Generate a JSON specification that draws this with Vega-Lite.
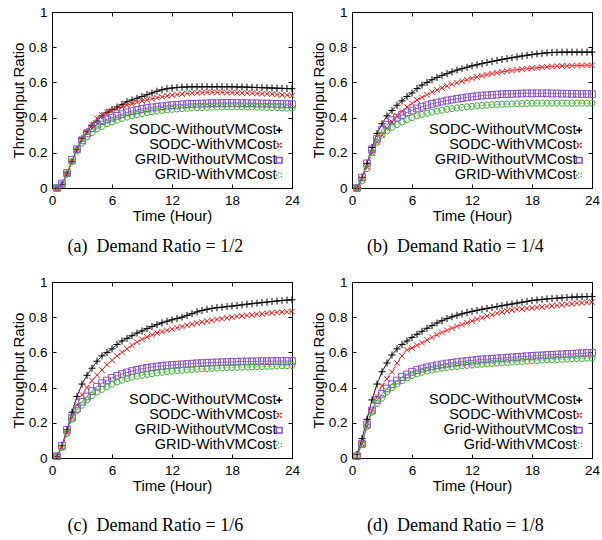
{
"$schema":"https://vega.github.io/schema/vega-lite/v6.json",
"background":"white",
"padding":{"left":10,"top":4,"right":0,"bottom":0},
"data":{"values":[
{"p":"a","k":"SW","t":0.5,"v":0},{"p":"a","k":"SW","t":1,"v":0.02},{"p":"a","k":"SW","t":1.5,"v":0.08},{"p":"a","k":"SW","t":2,"v":0.15},{"p":"a","k":"SW","t":2.5,"v":0.22},{"p":"a","k":"SW","t":3,"v":0.28},{"p":"a","k":"SW","t":3.5,"v":0.32},{"p":"a","k":"SW","t":4,"v":0.355},{"p":"a","k":"SW","t":4.5,"v":0.38},{"p":"a","k":"SW","t":5,"v":0.41},{"p":"a","k":"SW","t":5.5,"v":0.43},{"p":"a","k":"SW","t":6,"v":0.445},{"p":"a","k":"SW","t":6.5,"v":0.46},{"p":"a","k":"SW","t":7,"v":0.475},{"p":"a","k":"SW","t":7.5,"v":0.49},{"p":"a","k":"SW","t":8,"v":0.5},{"p":"a","k":"SW","t":8.5,"v":0.51},{"p":"a","k":"SW","t":9,"v":0.52},{"p":"a","k":"SW","t":9.5,"v":0.53},{"p":"a","k":"SW","t":10,"v":0.54},{"p":"a","k":"SW","t":10.5,"v":0.55},{"p":"a","k":"SW","t":11,"v":0.558},{"p":"a","k":"SW","t":11.5,"v":0.564},{"p":"a","k":"SW","t":12,"v":0.568},{"p":"a","k":"SW","t":12.5,"v":0.571},{"p":"a","k":"SW","t":13,"v":0.573},{"p":"a","k":"SW","t":13.5,"v":0.574},{"p":"a","k":"SW","t":14,"v":0.575},{"p":"a","k":"SW","t":14.5,"v":0.575},{"p":"a","k":"SW","t":15,"v":0.575},{"p":"a","k":"SW","t":15.5,"v":0.575},{"p":"a","k":"SW","t":16,"v":0.575},{"p":"a","k":"SW","t":16.5,"v":0.575},{"p":"a","k":"SW","t":17,"v":0.575},{"p":"a","k":"SW","t":17.5,"v":0.575},{"p":"a","k":"SW","t":18,"v":0.575},{"p":"a","k":"SW","t":18.5,"v":0.574},{"p":"a","k":"SW","t":19,"v":0.574},{"p":"a","k":"SW","t":19.5,"v":0.573},{"p":"a","k":"SW","t":20,"v":0.572},{"p":"a","k":"SW","t":20.5,"v":0.571},{"p":"a","k":"SW","t":21,"v":0.57},{"p":"a","k":"SW","t":21.5,"v":0.569},{"p":"a","k":"SW","t":22,"v":0.568},{"p":"a","k":"SW","t":22.5,"v":0.567},{"p":"a","k":"SW","t":23,"v":0.566},{"p":"a","k":"SW","t":23.5,"v":0.565},{"p":"a","k":"SW","t":24,"v":0.564},
{"p":"a","k":"SV","t":0.5,"v":0},{"p":"a","k":"SV","t":1,"v":0.02},{"p":"a","k":"SV","t":1.5,"v":0.08},{"p":"a","k":"SV","t":2,"v":0.15},{"p":"a","k":"SV","t":2.5,"v":0.22},{"p":"a","k":"SV","t":3,"v":0.28},{"p":"a","k":"SV","t":3.5,"v":0.32},{"p":"a","k":"SV","t":4,"v":0.36},{"p":"a","k":"SV","t":4.5,"v":0.395},{"p":"a","k":"SV","t":5,"v":0.415},{"p":"a","k":"SV","t":5.5,"v":0.43},{"p":"a","k":"SV","t":6,"v":0.44},{"p":"a","k":"SV","t":6.5,"v":0.45},{"p":"a","k":"SV","t":7,"v":0.46},{"p":"a","k":"SV","t":7.5,"v":0.47},{"p":"a","k":"SV","t":8,"v":0.478},{"p":"a","k":"SV","t":8.5,"v":0.486},{"p":"a","k":"SV","t":9,"v":0.494},{"p":"a","k":"SV","t":9.5,"v":0.5},{"p":"a","k":"SV","t":10,"v":0.507},{"p":"a","k":"SV","t":10.5,"v":0.513},{"p":"a","k":"SV","t":11,"v":0.518},{"p":"a","k":"SV","t":11.5,"v":0.523},{"p":"a","k":"SV","t":12,"v":0.527},{"p":"a","k":"SV","t":12.5,"v":0.531},{"p":"a","k":"SV","t":13,"v":0.534},{"p":"a","k":"SV","t":13.5,"v":0.537},{"p":"a","k":"SV","t":14,"v":0.539},{"p":"a","k":"SV","t":14.5,"v":0.541},{"p":"a","k":"SV","t":15,"v":0.542},{"p":"a","k":"SV","t":15.5,"v":0.543},{"p":"a","k":"SV","t":16,"v":0.543},{"p":"a","k":"SV","t":16.5,"v":0.543},{"p":"a","k":"SV","t":17,"v":0.543},{"p":"a","k":"SV","t":17.5,"v":0.542},{"p":"a","k":"SV","t":18,"v":0.542},{"p":"a","k":"SV","t":18.5,"v":0.541},{"p":"a","k":"SV","t":19,"v":0.54},{"p":"a","k":"SV","t":19.5,"v":0.539},{"p":"a","k":"SV","t":20,"v":0.538},{"p":"a","k":"SV","t":20.5,"v":0.537},{"p":"a","k":"SV","t":21,"v":0.536},{"p":"a","k":"SV","t":21.5,"v":0.535},{"p":"a","k":"SV","t":22,"v":0.533},{"p":"a","k":"SV","t":22.5,"v":0.531},{"p":"a","k":"SV","t":23,"v":0.529},{"p":"a","k":"SV","t":23.5,"v":0.527},{"p":"a","k":"SV","t":24,"v":0.525},
{"p":"a","k":"GW","t":0.5,"v":0},{"p":"a","k":"GW","t":1,"v":0.025},{"p":"a","k":"GW","t":1.5,"v":0.085},{"p":"a","k":"GW","t":2,"v":0.16},{"p":"a","k":"GW","t":2.5,"v":0.22},{"p":"a","k":"GW","t":3,"v":0.27},{"p":"a","k":"GW","t":3.5,"v":0.31},{"p":"a","k":"GW","t":4,"v":0.34},{"p":"a","k":"GW","t":4.5,"v":0.36},{"p":"a","k":"GW","t":5,"v":0.38},{"p":"a","k":"GW","t":5.5,"v":0.39},{"p":"a","k":"GW","t":6,"v":0.4},{"p":"a","k":"GW","t":6.5,"v":0.41},{"p":"a","k":"GW","t":7,"v":0.42},{"p":"a","k":"GW","t":7.5,"v":0.43},{"p":"a","k":"GW","t":8,"v":0.437},{"p":"a","k":"GW","t":8.5,"v":0.443},{"p":"a","k":"GW","t":9,"v":0.449},{"p":"a","k":"GW","t":9.5,"v":0.454},{"p":"a","k":"GW","t":10,"v":0.458},{"p":"a","k":"GW","t":10.5,"v":0.462},{"p":"a","k":"GW","t":11,"v":0.465},{"p":"a","k":"GW","t":11.5,"v":0.468},{"p":"a","k":"GW","t":12,"v":0.471},{"p":"a","k":"GW","t":12.5,"v":0.473},{"p":"a","k":"GW","t":13,"v":0.475},{"p":"a","k":"GW","t":13.5,"v":0.477},{"p":"a","k":"GW","t":14,"v":0.478},{"p":"a","k":"GW","t":14.5,"v":0.479},{"p":"a","k":"GW","t":15,"v":0.48},{"p":"a","k":"GW","t":15.5,"v":0.481},{"p":"a","k":"GW","t":16,"v":0.482},{"p":"a","k":"GW","t":16.5,"v":0.482},{"p":"a","k":"GW","t":17,"v":0.483},{"p":"a","k":"GW","t":17.5,"v":0.483},{"p":"a","k":"GW","t":18,"v":0.483},{"p":"a","k":"GW","t":18.5,"v":0.483},{"p":"a","k":"GW","t":19,"v":0.482},{"p":"a","k":"GW","t":19.5,"v":0.482},{"p":"a","k":"GW","t":20,"v":0.481},{"p":"a","k":"GW","t":20.5,"v":0.481},{"p":"a","k":"GW","t":21,"v":0.48},{"p":"a","k":"GW","t":21.5,"v":0.48},{"p":"a","k":"GW","t":22,"v":0.479},{"p":"a","k":"GW","t":22.5,"v":0.478},{"p":"a","k":"GW","t":23,"v":0.478},{"p":"a","k":"GW","t":23.5,"v":0.477},{"p":"a","k":"GW","t":24,"v":0.476},
{"p":"a","k":"GV","t":0.5,"v":0},{"p":"a","k":"GV","t":1,"v":0.02},{"p":"a","k":"GV","t":1.5,"v":0.08},{"p":"a","k":"GV","t":2,"v":0.15},{"p":"a","k":"GV","t":2.5,"v":0.21},{"p":"a","k":"GV","t":3,"v":0.255},{"p":"a","k":"GV","t":3.5,"v":0.29},{"p":"a","k":"GV","t":4,"v":0.315},{"p":"a","k":"GV","t":4.5,"v":0.335},{"p":"a","k":"GV","t":5,"v":0.35},{"p":"a","k":"GV","t":5.5,"v":0.365},{"p":"a","k":"GV","t":6,"v":0.375},{"p":"a","k":"GV","t":6.5,"v":0.385},{"p":"a","k":"GV","t":7,"v":0.395},{"p":"a","k":"GV","t":7.5,"v":0.403},{"p":"a","k":"GV","t":8,"v":0.41},{"p":"a","k":"GV","t":8.5,"v":0.417},{"p":"a","k":"GV","t":9,"v":0.423},{"p":"a","k":"GV","t":9.5,"v":0.428},{"p":"a","k":"GV","t":10,"v":0.433},{"p":"a","k":"GV","t":10.5,"v":0.437},{"p":"a","k":"GV","t":11,"v":0.441},{"p":"a","k":"GV","t":11.5,"v":0.444},{"p":"a","k":"GV","t":12,"v":0.447},{"p":"a","k":"GV","t":12.5,"v":0.449},{"p":"a","k":"GV","t":13,"v":0.451},{"p":"a","k":"GV","t":13.5,"v":0.453},{"p":"a","k":"GV","t":14,"v":0.455},{"p":"a","k":"GV","t":14.5,"v":0.456},{"p":"a","k":"GV","t":15,"v":0.457},{"p":"a","k":"GV","t":15.5,"v":0.458},{"p":"a","k":"GV","t":16,"v":0.459},{"p":"a","k":"GV","t":16.5,"v":0.46},{"p":"a","k":"GV","t":17,"v":0.46},{"p":"a","k":"GV","t":17.5,"v":0.461},{"p":"a","k":"GV","t":18,"v":0.461},{"p":"a","k":"GV","t":18.5,"v":0.461},{"p":"a","k":"GV","t":19,"v":0.461},{"p":"a","k":"GV","t":19.5,"v":0.46},{"p":"a","k":"GV","t":20,"v":0.46},{"p":"a","k":"GV","t":20.5,"v":0.459},{"p":"a","k":"GV","t":21,"v":0.459},{"p":"a","k":"GV","t":21.5,"v":0.458},{"p":"a","k":"GV","t":22,"v":0.457},{"p":"a","k":"GV","t":22.5,"v":0.456},{"p":"a","k":"GV","t":23,"v":0.455},{"p":"a","k":"GV","t":23.5,"v":0.454},{"p":"a","k":"GV","t":24,"v":0.453},
{"p":"b","k":"SW","t":0.5,"v":0},{"p":"b","k":"SW","t":1,"v":0.06},{"p":"b","k":"SW","t":1.5,"v":0.14},{"p":"b","k":"SW","t":2,"v":0.23},{"p":"b","k":"SW","t":2.5,"v":0.31},{"p":"b","k":"SW","t":3,"v":0.365},{"p":"b","k":"SW","t":3.5,"v":0.41},{"p":"b","k":"SW","t":4,"v":0.44},{"p":"b","k":"SW","t":4.5,"v":0.47},{"p":"b","k":"SW","t":5,"v":0.495},{"p":"b","k":"SW","t":5.5,"v":0.52},{"p":"b","k":"SW","t":6,"v":0.54},{"p":"b","k":"SW","t":6.5,"v":0.565},{"p":"b","k":"SW","t":7,"v":0.585},{"p":"b","k":"SW","t":7.5,"v":0.6},{"p":"b","k":"SW","t":8,"v":0.615},{"p":"b","k":"SW","t":8.5,"v":0.628},{"p":"b","k":"SW","t":9,"v":0.64},{"p":"b","k":"SW","t":9.5,"v":0.65},{"p":"b","k":"SW","t":10,"v":0.66},{"p":"b","k":"SW","t":10.5,"v":0.67},{"p":"b","k":"SW","t":11,"v":0.678},{"p":"b","k":"SW","t":11.5,"v":0.686},{"p":"b","k":"SW","t":12,"v":0.694},{"p":"b","k":"SW","t":12.5,"v":0.7},{"p":"b","k":"SW","t":13,"v":0.707},{"p":"b","k":"SW","t":13.5,"v":0.713},{"p":"b","k":"SW","t":14,"v":0.719},{"p":"b","k":"SW","t":14.5,"v":0.725},{"p":"b","k":"SW","t":15,"v":0.73},{"p":"b","k":"SW","t":15.5,"v":0.735},{"p":"b","k":"SW","t":16,"v":0.74},{"p":"b","k":"SW","t":16.5,"v":0.745},{"p":"b","k":"SW","t":17,"v":0.75},{"p":"b","k":"SW","t":17.5,"v":0.754},{"p":"b","k":"SW","t":18,"v":0.758},{"p":"b","k":"SW","t":18.5,"v":0.762},{"p":"b","k":"SW","t":19,"v":0.765},{"p":"b","k":"SW","t":19.5,"v":0.768},{"p":"b","k":"SW","t":20,"v":0.77},{"p":"b","k":"SW","t":20.5,"v":0.771},{"p":"b","k":"SW","t":21,"v":0.772},{"p":"b","k":"SW","t":21.5,"v":0.772},{"p":"b","k":"SW","t":22,"v":0.772},{"p":"b","k":"SW","t":22.5,"v":0.772},{"p":"b","k":"SW","t":23,"v":0.772},{"p":"b","k":"SW","t":23.5,"v":0.772},{"p":"b","k":"SW","t":24,"v":0.772},
{"p":"b","k":"SV","t":0.5,"v":0},{"p":"b","k":"SV","t":1,"v":0.05},{"p":"b","k":"SV","t":1.5,"v":0.12},{"p":"b","k":"SV","t":2,"v":0.2},{"p":"b","k":"SV","t":2.5,"v":0.26},{"p":"b","k":"SV","t":3,"v":0.3},{"p":"b","k":"SV","t":3.5,"v":0.34},{"p":"b","k":"SV","t":4,"v":0.375},{"p":"b","k":"SV","t":4.5,"v":0.41},{"p":"b","k":"SV","t":5,"v":0.435},{"p":"b","k":"SV","t":5.5,"v":0.46},{"p":"b","k":"SV","t":6,"v":0.48},{"p":"b","k":"SV","t":6.5,"v":0.5},{"p":"b","k":"SV","t":7,"v":0.515},{"p":"b","k":"SV","t":7.5,"v":0.53},{"p":"b","k":"SV","t":8,"v":0.545},{"p":"b","k":"SV","t":8.5,"v":0.557},{"p":"b","k":"SV","t":9,"v":0.568},{"p":"b","k":"SV","t":9.5,"v":0.579},{"p":"b","k":"SV","t":10,"v":0.589},{"p":"b","k":"SV","t":10.5,"v":0.598},{"p":"b","k":"SV","t":11,"v":0.607},{"p":"b","k":"SV","t":11.5,"v":0.615},{"p":"b","k":"SV","t":12,"v":0.623},{"p":"b","k":"SV","t":12.5,"v":0.631},{"p":"b","k":"SV","t":13,"v":0.638},{"p":"b","k":"SV","t":13.5,"v":0.644},{"p":"b","k":"SV","t":14,"v":0.65},{"p":"b","k":"SV","t":14.5,"v":0.655},{"p":"b","k":"SV","t":15,"v":0.66},{"p":"b","k":"SV","t":15.5,"v":0.664},{"p":"b","k":"SV","t":16,"v":0.668},{"p":"b","k":"SV","t":16.5,"v":0.672},{"p":"b","k":"SV","t":17,"v":0.675},{"p":"b","k":"SV","t":17.5,"v":0.678},{"p":"b","k":"SV","t":18,"v":0.681},{"p":"b","k":"SV","t":18.5,"v":0.684},{"p":"b","k":"SV","t":19,"v":0.686},{"p":"b","k":"SV","t":19.5,"v":0.688},{"p":"b","k":"SV","t":20,"v":0.69},{"p":"b","k":"SV","t":20.5,"v":0.692},{"p":"b","k":"SV","t":21,"v":0.693},{"p":"b","k":"SV","t":21.5,"v":0.694},{"p":"b","k":"SV","t":22,"v":0.695},{"p":"b","k":"SV","t":22.5,"v":0.696},{"p":"b","k":"SV","t":23,"v":0.696},{"p":"b","k":"SV","t":23.5,"v":0.697},{"p":"b","k":"SV","t":24,"v":0.697},
{"p":"b","k":"GW","t":0.5,"v":0},{"p":"b","k":"GW","t":1,"v":0.06},{"p":"b","k":"GW","t":1.5,"v":0.14},{"p":"b","k":"GW","t":2,"v":0.22},{"p":"b","k":"GW","t":2.5,"v":0.28},{"p":"b","k":"GW","t":3,"v":0.33},{"p":"b","k":"GW","t":3.5,"v":0.36},{"p":"b","k":"GW","t":4,"v":0.385},{"p":"b","k":"GW","t":4.5,"v":0.4},{"p":"b","k":"GW","t":5,"v":0.415},{"p":"b","k":"GW","t":5.5,"v":0.43},{"p":"b","k":"GW","t":6,"v":0.44},{"p":"b","k":"GW","t":6.5,"v":0.452},{"p":"b","k":"GW","t":7,"v":0.462},{"p":"b","k":"GW","t":7.5,"v":0.47},{"p":"b","k":"GW","t":8,"v":0.478},{"p":"b","k":"GW","t":8.5,"v":0.485},{"p":"b","k":"GW","t":9,"v":0.491},{"p":"b","k":"GW","t":9.5,"v":0.497},{"p":"b","k":"GW","t":10,"v":0.502},{"p":"b","k":"GW","t":10.5,"v":0.507},{"p":"b","k":"GW","t":11,"v":0.511},{"p":"b","k":"GW","t":11.5,"v":0.515},{"p":"b","k":"GW","t":12,"v":0.519},{"p":"b","k":"GW","t":12.5,"v":0.522},{"p":"b","k":"GW","t":13,"v":0.525},{"p":"b","k":"GW","t":13.5,"v":0.527},{"p":"b","k":"GW","t":14,"v":0.529},{"p":"b","k":"GW","t":14.5,"v":0.531},{"p":"b","k":"GW","t":15,"v":0.533},{"p":"b","k":"GW","t":15.5,"v":0.534},{"p":"b","k":"GW","t":16,"v":0.535},{"p":"b","k":"GW","t":16.5,"v":0.536},{"p":"b","k":"GW","t":17,"v":0.537},{"p":"b","k":"GW","t":17.5,"v":0.538},{"p":"b","k":"GW","t":18,"v":0.538},{"p":"b","k":"GW","t":18.5,"v":0.538},{"p":"b","k":"GW","t":19,"v":0.538},{"p":"b","k":"GW","t":19.5,"v":0.538},{"p":"b","k":"GW","t":20,"v":0.537},{"p":"b","k":"GW","t":20.5,"v":0.537},{"p":"b","k":"GW","t":21,"v":0.536},{"p":"b","k":"GW","t":21.5,"v":0.536},{"p":"b","k":"GW","t":22,"v":0.535},{"p":"b","k":"GW","t":22.5,"v":0.535},{"p":"b","k":"GW","t":23,"v":0.534},{"p":"b","k":"GW","t":23.5,"v":0.534},{"p":"b","k":"GW","t":24,"v":0.533},
{"p":"b","k":"GV","t":0.5,"v":0},{"p":"b","k":"GV","t":1,"v":0.04},{"p":"b","k":"GV","t":1.5,"v":0.11},{"p":"b","k":"GV","t":2,"v":0.2},{"p":"b","k":"GV","t":2.5,"v":0.26},{"p":"b","k":"GV","t":3,"v":0.3},{"p":"b","k":"GV","t":3.5,"v":0.325},{"p":"b","k":"GV","t":4,"v":0.345},{"p":"b","k":"GV","t":4.5,"v":0.36},{"p":"b","k":"GV","t":5,"v":0.375},{"p":"b","k":"GV","t":5.5,"v":0.388},{"p":"b","k":"GV","t":6,"v":0.4},{"p":"b","k":"GV","t":6.5,"v":0.41},{"p":"b","k":"GV","t":7,"v":0.418},{"p":"b","k":"GV","t":7.5,"v":0.425},{"p":"b","k":"GV","t":8,"v":0.431},{"p":"b","k":"GV","t":8.5,"v":0.437},{"p":"b","k":"GV","t":9,"v":0.442},{"p":"b","k":"GV","t":9.5,"v":0.447},{"p":"b","k":"GV","t":10,"v":0.451},{"p":"b","k":"GV","t":10.5,"v":0.455},{"p":"b","k":"GV","t":11,"v":0.458},{"p":"b","k":"GV","t":11.5,"v":0.461},{"p":"b","k":"GV","t":12,"v":0.464},{"p":"b","k":"GV","t":12.5,"v":0.467},{"p":"b","k":"GV","t":13,"v":0.469},{"p":"b","k":"GV","t":13.5,"v":0.471},{"p":"b","k":"GV","t":14,"v":0.473},{"p":"b","k":"GV","t":14.5,"v":0.475},{"p":"b","k":"GV","t":15,"v":0.476},{"p":"b","k":"GV","t":15.5,"v":0.477},{"p":"b","k":"GV","t":16,"v":0.478},{"p":"b","k":"GV","t":16.5,"v":0.479},{"p":"b","k":"GV","t":17,"v":0.48},{"p":"b","k":"GV","t":17.5,"v":0.481},{"p":"b","k":"GV","t":18,"v":0.481},{"p":"b","k":"GV","t":18.5,"v":0.482},{"p":"b","k":"GV","t":19,"v":0.482},{"p":"b","k":"GV","t":19.5,"v":0.482},{"p":"b","k":"GV","t":20,"v":0.482},{"p":"b","k":"GV","t":20.5,"v":0.482},{"p":"b","k":"GV","t":21,"v":0.482},{"p":"b","k":"GV","t":21.5,"v":0.482},{"p":"b","k":"GV","t":22,"v":0.482},{"p":"b","k":"GV","t":22.5,"v":0.482},{"p":"b","k":"GV","t":23,"v":0.482},{"p":"b","k":"GV","t":23.5,"v":0.482},{"p":"b","k":"GV","t":24,"v":0.482},
{"p":"c","k":"SW","t":0.5,"v":0.01},{"p":"c","k":"SW","t":1,"v":0.07},{"p":"c","k":"SW","t":1.5,"v":0.16},{"p":"c","k":"SW","t":2,"v":0.26},{"p":"c","k":"SW","t":2.5,"v":0.35},{"p":"c","k":"SW","t":3,"v":0.42},{"p":"c","k":"SW","t":3.5,"v":0.47},{"p":"c","k":"SW","t":4,"v":0.51},{"p":"c","k":"SW","t":4.5,"v":0.55},{"p":"c","k":"SW","t":5,"v":0.58},{"p":"c","k":"SW","t":5.5,"v":0.6},{"p":"c","k":"SW","t":6,"v":0.62},{"p":"c","k":"SW","t":6.5,"v":0.645},{"p":"c","k":"SW","t":7,"v":0.665},{"p":"c","k":"SW","t":7.5,"v":0.68},{"p":"c","k":"SW","t":8,"v":0.695},{"p":"c","k":"SW","t":8.5,"v":0.71},{"p":"c","k":"SW","t":9,"v":0.722},{"p":"c","k":"SW","t":9.5,"v":0.735},{"p":"c","k":"SW","t":10,"v":0.747},{"p":"c","k":"SW","t":10.5,"v":0.758},{"p":"c","k":"SW","t":11,"v":0.768},{"p":"c","k":"SW","t":11.5,"v":0.777},{"p":"c","k":"SW","t":12,"v":0.785},{"p":"c","k":"SW","t":12.5,"v":0.793},{"p":"c","k":"SW","t":13,"v":0.8},{"p":"c","k":"SW","t":13.5,"v":0.81},{"p":"c","k":"SW","t":14,"v":0.82},{"p":"c","k":"SW","t":14.5,"v":0.83},{"p":"c","k":"SW","t":15,"v":0.838},{"p":"c","k":"SW","t":15.5,"v":0.845},{"p":"c","k":"SW","t":16,"v":0.85},{"p":"c","k":"SW","t":16.5,"v":0.854},{"p":"c","k":"SW","t":17,"v":0.857},{"p":"c","k":"SW","t":17.5,"v":0.86},{"p":"c","k":"SW","t":18,"v":0.863},{"p":"c","k":"SW","t":18.5,"v":0.866},{"p":"c","k":"SW","t":19,"v":0.87},{"p":"c","k":"SW","t":19.5,"v":0.874},{"p":"c","k":"SW","t":20,"v":0.877},{"p":"c","k":"SW","t":20.5,"v":0.88},{"p":"c","k":"SW","t":21,"v":0.883},{"p":"c","k":"SW","t":21.5,"v":0.886},{"p":"c","k":"SW","t":22,"v":0.889},{"p":"c","k":"SW","t":22.5,"v":0.892},{"p":"c","k":"SW","t":23,"v":0.895},{"p":"c","k":"SW","t":23.5,"v":0.897},{"p":"c","k":"SW","t":24,"v":0.899},
{"p":"c","k":"SV","t":0.5,"v":0.01},{"p":"c","k":"SV","t":1,"v":0.06},{"p":"c","k":"SV","t":1.5,"v":0.14},{"p":"c","k":"SV","t":2,"v":0.23},{"p":"c","k":"SV","t":2.5,"v":0.3},{"p":"c","k":"SV","t":3,"v":0.36},{"p":"c","k":"SV","t":3.5,"v":0.4},{"p":"c","k":"SV","t":4,"v":0.44},{"p":"c","k":"SV","t":4.5,"v":0.47},{"p":"c","k":"SV","t":5,"v":0.5},{"p":"c","k":"SV","t":5.5,"v":0.53},{"p":"c","k":"SV","t":6,"v":0.555},{"p":"c","k":"SV","t":6.5,"v":0.58},{"p":"c","k":"SV","t":7,"v":0.6},{"p":"c","k":"SV","t":7.5,"v":0.62},{"p":"c","k":"SV","t":8,"v":0.64},{"p":"c","k":"SV","t":8.5,"v":0.658},{"p":"c","k":"SV","t":9,"v":0.674},{"p":"c","k":"SV","t":9.5,"v":0.688},{"p":"c","k":"SV","t":10,"v":0.7},{"p":"c","k":"SV","t":10.5,"v":0.71},{"p":"c","k":"SV","t":11,"v":0.718},{"p":"c","k":"SV","t":11.5,"v":0.725},{"p":"c","k":"SV","t":12,"v":0.732},{"p":"c","k":"SV","t":12.5,"v":0.74},{"p":"c","k":"SV","t":13,"v":0.747},{"p":"c","k":"SV","t":13.5,"v":0.754},{"p":"c","k":"SV","t":14,"v":0.76},{"p":"c","k":"SV","t":14.5,"v":0.766},{"p":"c","k":"SV","t":15,"v":0.772},{"p":"c","k":"SV","t":15.5,"v":0.777},{"p":"c","k":"SV","t":16,"v":0.782},{"p":"c","k":"SV","t":16.5,"v":0.787},{"p":"c","k":"SV","t":17,"v":0.792},{"p":"c","k":"SV","t":17.5,"v":0.796},{"p":"c","k":"SV","t":18,"v":0.8},{"p":"c","k":"SV","t":18.5,"v":0.804},{"p":"c","k":"SV","t":19,"v":0.807},{"p":"c","k":"SV","t":19.5,"v":0.81},{"p":"c","k":"SV","t":20,"v":0.813},{"p":"c","k":"SV","t":20.5,"v":0.816},{"p":"c","k":"SV","t":21,"v":0.819},{"p":"c","k":"SV","t":21.5,"v":0.822},{"p":"c","k":"SV","t":22,"v":0.825},{"p":"c","k":"SV","t":22.5,"v":0.827},{"p":"c","k":"SV","t":23,"v":0.829},{"p":"c","k":"SV","t":23.5,"v":0.831},{"p":"c","k":"SV","t":24,"v":0.833},
{"p":"c","k":"GW","t":0.5,"v":0.01},{"p":"c","k":"GW","t":1,"v":0.07},{"p":"c","k":"GW","t":1.5,"v":0.16},{"p":"c","k":"GW","t":2,"v":0.23},{"p":"c","k":"GW","t":2.5,"v":0.28},{"p":"c","k":"GW","t":3,"v":0.32},{"p":"c","k":"GW","t":3.5,"v":0.35},{"p":"c","k":"GW","t":4,"v":0.38},{"p":"c","k":"GW","t":4.5,"v":0.405},{"p":"c","k":"GW","t":5,"v":0.425},{"p":"c","k":"GW","t":5.5,"v":0.44},{"p":"c","k":"GW","t":6,"v":0.455},{"p":"c","k":"GW","t":6.5,"v":0.467},{"p":"c","k":"GW","t":7,"v":0.477},{"p":"c","k":"GW","t":7.5,"v":0.486},{"p":"c","k":"GW","t":8,"v":0.494},{"p":"c","k":"GW","t":8.5,"v":0.501},{"p":"c","k":"GW","t":9,"v":0.507},{"p":"c","k":"GW","t":9.5,"v":0.512},{"p":"c","k":"GW","t":10,"v":0.516},{"p":"c","k":"GW","t":10.5,"v":0.52},{"p":"c","k":"GW","t":11,"v":0.523},{"p":"c","k":"GW","t":11.5,"v":0.526},{"p":"c","k":"GW","t":12,"v":0.528},{"p":"c","k":"GW","t":12.5,"v":0.53},{"p":"c","k":"GW","t":13,"v":0.532},{"p":"c","k":"GW","t":13.5,"v":0.534},{"p":"c","k":"GW","t":14,"v":0.536},{"p":"c","k":"GW","t":14.5,"v":0.538},{"p":"c","k":"GW","t":15,"v":0.539},{"p":"c","k":"GW","t":15.5,"v":0.541},{"p":"c","k":"GW","t":16,"v":0.542},{"p":"c","k":"GW","t":16.5,"v":0.543},{"p":"c","k":"GW","t":17,"v":0.544},{"p":"c","k":"GW","t":17.5,"v":0.545},{"p":"c","k":"GW","t":18,"v":0.546},{"p":"c","k":"GW","t":18.5,"v":0.547},{"p":"c","k":"GW","t":19,"v":0.548},{"p":"c","k":"GW","t":19.5,"v":0.548},{"p":"c","k":"GW","t":20,"v":0.549},{"p":"c","k":"GW","t":20.5,"v":0.549},{"p":"c","k":"GW","t":21,"v":0.55},{"p":"c","k":"GW","t":21.5,"v":0.55},{"p":"c","k":"GW","t":22,"v":0.55},{"p":"c","k":"GW","t":22.5,"v":0.551},{"p":"c","k":"GW","t":23,"v":0.551},{"p":"c","k":"GW","t":23.5,"v":0.551},{"p":"c","k":"GW","t":24,"v":0.551},
{"p":"c","k":"GV","t":0.5,"v":0.01},{"p":"c","k":"GV","t":1,"v":0.06},{"p":"c","k":"GV","t":1.5,"v":0.14},{"p":"c","k":"GV","t":2,"v":0.22},{"p":"c","k":"GV","t":2.5,"v":0.27},{"p":"c","k":"GV","t":3,"v":0.3},{"p":"c","k":"GV","t":3.5,"v":0.33},{"p":"c","k":"GV","t":4,"v":0.355},{"p":"c","k":"GV","t":4.5,"v":0.375},{"p":"c","k":"GV","t":5,"v":0.39},{"p":"c","k":"GV","t":5.5,"v":0.405},{"p":"c","k":"GV","t":6,"v":0.42},{"p":"c","k":"GV","t":6.5,"v":0.432},{"p":"c","k":"GV","t":7,"v":0.442},{"p":"c","k":"GV","t":7.5,"v":0.451},{"p":"c","k":"GV","t":8,"v":0.459},{"p":"c","k":"GV","t":8.5,"v":0.465},{"p":"c","k":"GV","t":9,"v":0.47},{"p":"c","k":"GV","t":9.5,"v":0.475},{"p":"c","k":"GV","t":10,"v":0.479},{"p":"c","k":"GV","t":10.5,"v":0.483},{"p":"c","k":"GV","t":11,"v":0.487},{"p":"c","k":"GV","t":11.5,"v":0.491},{"p":"c","k":"GV","t":12,"v":0.494},{"p":"c","k":"GV","t":12.5,"v":0.497},{"p":"c","k":"GV","t":13,"v":0.499},{"p":"c","k":"GV","t":13.5,"v":0.501},{"p":"c","k":"GV","t":14,"v":0.503},{"p":"c","k":"GV","t":14.5,"v":0.505},{"p":"c","k":"GV","t":15,"v":0.507},{"p":"c","k":"GV","t":15.5,"v":0.508},{"p":"c","k":"GV","t":16,"v":0.51},{"p":"c","k":"GV","t":16.5,"v":0.511},{"p":"c","k":"GV","t":17,"v":0.512},{"p":"c","k":"GV","t":17.5,"v":0.513},{"p":"c","k":"GV","t":18,"v":0.514},{"p":"c","k":"GV","t":18.5,"v":0.515},{"p":"c","k":"GV","t":19,"v":0.516},{"p":"c","k":"GV","t":19.5,"v":0.517},{"p":"c","k":"GV","t":20,"v":0.518},{"p":"c","k":"GV","t":20.5,"v":0.519},{"p":"c","k":"GV","t":21,"v":0.52},{"p":"c","k":"GV","t":21.5,"v":0.521},{"p":"c","k":"GV","t":22,"v":0.522},{"p":"c","k":"GV","t":22.5,"v":0.523},{"p":"c","k":"GV","t":23,"v":0.524},{"p":"c","k":"GV","t":23.5,"v":0.525},{"p":"c","k":"GV","t":24,"v":0.526},
{"p":"d","k":"SW","t":0.5,"v":0.02},{"p":"d","k":"SW","t":1,"v":0.11},{"p":"d","k":"SW","t":1.5,"v":0.22},{"p":"d","k":"SW","t":2,"v":0.33},{"p":"d","k":"SW","t":2.5,"v":0.42},{"p":"d","k":"SW","t":3,"v":0.49},{"p":"d","k":"SW","t":3.5,"v":0.54},{"p":"d","k":"SW","t":4,"v":0.585},{"p":"d","k":"SW","t":4.5,"v":0.62},{"p":"d","k":"SW","t":5,"v":0.645},{"p":"d","k":"SW","t":5.5,"v":0.665},{"p":"d","k":"SW","t":6,"v":0.685},{"p":"d","k":"SW","t":6.5,"v":0.703},{"p":"d","k":"SW","t":7,"v":0.72},{"p":"d","k":"SW","t":7.5,"v":0.737},{"p":"d","k":"SW","t":8,"v":0.752},{"p":"d","k":"SW","t":8.5,"v":0.767},{"p":"d","k":"SW","t":9,"v":0.78},{"p":"d","k":"SW","t":9.5,"v":0.792},{"p":"d","k":"SW","t":10,"v":0.802},{"p":"d","k":"SW","t":10.5,"v":0.811},{"p":"d","k":"SW","t":11,"v":0.819},{"p":"d","k":"SW","t":11.5,"v":0.826},{"p":"d","k":"SW","t":12,"v":0.833},{"p":"d","k":"SW","t":12.5,"v":0.839},{"p":"d","k":"SW","t":13,"v":0.845},{"p":"d","k":"SW","t":13.5,"v":0.85},{"p":"d","k":"SW","t":14,"v":0.855},{"p":"d","k":"SW","t":14.5,"v":0.86},{"p":"d","k":"SW","t":15,"v":0.865},{"p":"d","k":"SW","t":15.5,"v":0.87},{"p":"d","k":"SW","t":16,"v":0.875},{"p":"d","k":"SW","t":16.5,"v":0.88},{"p":"d","k":"SW","t":17,"v":0.885},{"p":"d","k":"SW","t":17.5,"v":0.89},{"p":"d","k":"SW","t":18,"v":0.895},{"p":"d","k":"SW","t":18.5,"v":0.898},{"p":"d","k":"SW","t":19,"v":0.901},{"p":"d","k":"SW","t":19.5,"v":0.904},{"p":"d","k":"SW","t":20,"v":0.906},{"p":"d","k":"SW","t":20.5,"v":0.908},{"p":"d","k":"SW","t":21,"v":0.91},{"p":"d","k":"SW","t":21.5,"v":0.912},{"p":"d","k":"SW","t":22,"v":0.914},{"p":"d","k":"SW","t":22.5,"v":0.915},{"p":"d","k":"SW","t":23,"v":0.916},{"p":"d","k":"SW","t":23.5,"v":0.917},{"p":"d","k":"SW","t":24,"v":0.918},
{"p":"d","k":"SV","t":0.5,"v":0.01},{"p":"d","k":"SV","t":1,"v":0.08},{"p":"d","k":"SV","t":1.5,"v":0.18},{"p":"d","k":"SV","t":2,"v":0.27},{"p":"d","k":"SV","t":2.5,"v":0.35},{"p":"d","k":"SV","t":3,"v":0.41},{"p":"d","k":"SV","t":3.5,"v":0.45},{"p":"d","k":"SV","t":4,"v":0.49},{"p":"d","k":"SV","t":4.5,"v":0.54},{"p":"d","k":"SV","t":5,"v":0.58},{"p":"d","k":"SV","t":5.5,"v":0.615},{"p":"d","k":"SV","t":6,"v":0.625},{"p":"d","k":"SV","t":6.5,"v":0.64},{"p":"d","k":"SV","t":7,"v":0.655},{"p":"d","k":"SV","t":7.5,"v":0.67},{"p":"d","k":"SV","t":8,"v":0.685},{"p":"d","k":"SV","t":8.5,"v":0.7},{"p":"d","k":"SV","t":9,"v":0.713},{"p":"d","k":"SV","t":9.5,"v":0.725},{"p":"d","k":"SV","t":10,"v":0.737},{"p":"d","k":"SV","t":10.5,"v":0.748},{"p":"d","k":"SV","t":11,"v":0.758},{"p":"d","k":"SV","t":11.5,"v":0.768},{"p":"d","k":"SV","t":12,"v":0.778},{"p":"d","k":"SV","t":12.5,"v":0.788},{"p":"d","k":"SV","t":13,"v":0.797},{"p":"d","k":"SV","t":13.5,"v":0.806},{"p":"d","k":"SV","t":14,"v":0.814},{"p":"d","k":"SV","t":14.5,"v":0.822},{"p":"d","k":"SV","t":15,"v":0.829},{"p":"d","k":"SV","t":15.5,"v":0.835},{"p":"d","k":"SV","t":16,"v":0.84},{"p":"d","k":"SV","t":16.5,"v":0.844},{"p":"d","k":"SV","t":17,"v":0.847},{"p":"d","k":"SV","t":17.5,"v":0.85},{"p":"d","k":"SV","t":18,"v":0.852},{"p":"d","k":"SV","t":18.5,"v":0.855},{"p":"d","k":"SV","t":19,"v":0.858},{"p":"d","k":"SV","t":19.5,"v":0.861},{"p":"d","k":"SV","t":20,"v":0.864},{"p":"d","k":"SV","t":20.5,"v":0.867},{"p":"d","k":"SV","t":21,"v":0.87},{"p":"d","k":"SV","t":21.5,"v":0.873},{"p":"d","k":"SV","t":22,"v":0.876},{"p":"d","k":"SV","t":22.5,"v":0.879},{"p":"d","k":"SV","t":23,"v":0.882},{"p":"d","k":"SV","t":23.5,"v":0.884},{"p":"d","k":"SV","t":24,"v":0.886},
{"p":"d","k":"GW","t":0.5,"v":0.01},{"p":"d","k":"GW","t":1,"v":0.08},{"p":"d","k":"GW","t":1.5,"v":0.19},{"p":"d","k":"GW","t":2,"v":0.27},{"p":"d","k":"GW","t":2.5,"v":0.33},{"p":"d","k":"GW","t":3,"v":0.365},{"p":"d","k":"GW","t":3.5,"v":0.395},{"p":"d","k":"GW","t":4,"v":0.42},{"p":"d","k":"GW","t":4.5,"v":0.44},{"p":"d","k":"GW","t":5,"v":0.46},{"p":"d","k":"GW","t":5.5,"v":0.475},{"p":"d","k":"GW","t":6,"v":0.49},{"p":"d","k":"GW","t":6.5,"v":0.5},{"p":"d","k":"GW","t":7,"v":0.508},{"p":"d","k":"GW","t":7.5,"v":0.515},{"p":"d","k":"GW","t":8,"v":0.521},{"p":"d","k":"GW","t":8.5,"v":0.527},{"p":"d","k":"GW","t":9,"v":0.532},{"p":"d","k":"GW","t":9.5,"v":0.537},{"p":"d","k":"GW","t":10,"v":0.541},{"p":"d","k":"GW","t":10.5,"v":0.545},{"p":"d","k":"GW","t":11,"v":0.548},{"p":"d","k":"GW","t":11.5,"v":0.551},{"p":"d","k":"GW","t":12,"v":0.554},{"p":"d","k":"GW","t":12.5,"v":0.557},{"p":"d","k":"GW","t":13,"v":0.56},{"p":"d","k":"GW","t":13.5,"v":0.562},{"p":"d","k":"GW","t":14,"v":0.564},{"p":"d","k":"GW","t":14.5,"v":0.566},{"p":"d","k":"GW","t":15,"v":0.568},{"p":"d","k":"GW","t":15.5,"v":0.57},{"p":"d","k":"GW","t":16,"v":0.572},{"p":"d","k":"GW","t":16.5,"v":0.574},{"p":"d","k":"GW","t":17,"v":0.576},{"p":"d","k":"GW","t":17.5,"v":0.578},{"p":"d","k":"GW","t":18,"v":0.58},{"p":"d","k":"GW","t":18.5,"v":0.582},{"p":"d","k":"GW","t":19,"v":0.583},{"p":"d","k":"GW","t":19.5,"v":0.585},{"p":"d","k":"GW","t":20,"v":0.586},{"p":"d","k":"GW","t":20.5,"v":0.588},{"p":"d","k":"GW","t":21,"v":0.589},{"p":"d","k":"GW","t":21.5,"v":0.591},{"p":"d","k":"GW","t":22,"v":0.592},{"p":"d","k":"GW","t":22.5,"v":0.594},{"p":"d","k":"GW","t":23,"v":0.595},{"p":"d","k":"GW","t":23.5,"v":0.597},{"p":"d","k":"GW","t":24,"v":0.598},
{"p":"d","k":"GV","t":0.5,"v":0.01},{"p":"d","k":"GV","t":1,"v":0.08},{"p":"d","k":"GV","t":1.5,"v":0.18},{"p":"d","k":"GV","t":2,"v":0.26},{"p":"d","k":"GV","t":2.5,"v":0.31},{"p":"d","k":"GV","t":3,"v":0.34},{"p":"d","k":"GV","t":3.5,"v":0.375},{"p":"d","k":"GV","t":4,"v":0.4},{"p":"d","k":"GV","t":4.5,"v":0.42},{"p":"d","k":"GV","t":5,"v":0.44},{"p":"d","k":"GV","t":5.5,"v":0.455},{"p":"d","k":"GV","t":6,"v":0.468},{"p":"d","k":"GV","t":6.5,"v":0.478},{"p":"d","k":"GV","t":7,"v":0.487},{"p":"d","k":"GV","t":7.5,"v":0.494},{"p":"d","k":"GV","t":8,"v":0.5},{"p":"d","k":"GV","t":8.5,"v":0.505},{"p":"d","k":"GV","t":9,"v":0.51},{"p":"d","k":"GV","t":9.5,"v":0.514},{"p":"d","k":"GV","t":10,"v":0.517},{"p":"d","k":"GV","t":10.5,"v":0.52},{"p":"d","k":"GV","t":11,"v":0.523},{"p":"d","k":"GV","t":11.5,"v":0.526},{"p":"d","k":"GV","t":12,"v":0.528},{"p":"d","k":"GV","t":12.5,"v":0.531},{"p":"d","k":"GV","t":13,"v":0.533},{"p":"d","k":"GV","t":13.5,"v":0.535},{"p":"d","k":"GV","t":14,"v":0.537},{"p":"d","k":"GV","t":14.5,"v":0.539},{"p":"d","k":"GV","t":15,"v":0.541},{"p":"d","k":"GV","t":15.5,"v":0.543},{"p":"d","k":"GV","t":16,"v":0.545},{"p":"d","k":"GV","t":16.5,"v":0.547},{"p":"d","k":"GV","t":17,"v":0.549},{"p":"d","k":"GV","t":17.5,"v":0.551},{"p":"d","k":"GV","t":18,"v":0.553},{"p":"d","k":"GV","t":18.5,"v":0.554},{"p":"d","k":"GV","t":19,"v":0.556},{"p":"d","k":"GV","t":19.5,"v":0.557},{"p":"d","k":"GV","t":20,"v":0.558},{"p":"d","k":"GV","t":20.5,"v":0.56},{"p":"d","k":"GV","t":21,"v":0.561},{"p":"d","k":"GV","t":21.5,"v":0.562},{"p":"d","k":"GV","t":22,"v":0.564},{"p":"d","k":"GV","t":22.5,"v":0.565},{"p":"d","k":"GV","t":23,"v":0.566},{"p":"d","k":"GV","t":23.5,"v":0.567},{"p":"d","k":"GV","t":24,"v":0.568}
]},
"columns":2,
"spacing":{"row":18,"column":9},
"resolve":{"scale":{"color":"independent","shape":"independent","strokeDash":"independent"},"legend":{"color":"independent"}},
"concat":[
{"width":240,"height":176,"transform":[{"filter":"datum.p==='a'"}],
 "title":{"text":"(a)\u00a0 Demand Ratio = 1/2","offset":14},
 "resolve":{"axis":{"x":"independent","y":"independent"}},
 "layer":[
  {"mark":{"type":"line","strokeWidth":1},
   "encoding":{
    "x":{"field":"t","type":"quantitative","scale":{"domain":[0,24]},"axis":{"orient":"bottom","values":[0,6,12,18,24],"title":"Time (Hour)"}},
    "y":{"field":"v","type":"quantitative","scale":{"domain":[0,1]},"axis":{"orient":"left","values":[0,0.2,0.4,0.6,0.8,1],"labelExpr":"''+datum.value","title":"Throughput Ratio"}},
    "color":{"field":"k","type":"nominal","scale":{"domain":["SW","SV","GW","GV"],"range":["#000000","#ee2020","#8a50c8","#3cb034"]},
     "legend":{"labelExpr":"datum.value==='SW'?'SODC-WithoutVMCost':datum.value==='SV'?'SODC-WithVMCost':datum.value==='GW'?'GRID-WithoutVMCost':'GRID-WithVMCost'"}},
    "strokeDash":{"field":"k","type":"nominal","scale":{"domain":["SW","SV","GW","GV"],"range":[[1,0],[3,2],[1,0],[1,2]]},"legend":null}}},
  {"mark":{"type":"point","filled":false,"size":50,"strokeWidth":1,"opacity":1},
   "encoding":{
    "x":{"field":"t","type":"quantitative","scale":{"domain":[0,24]},"axis":{"orient":"top","values":[0,6,12,18,24],"labels":false,"title":null}},
    "y":{"field":"v","type":"quantitative","scale":{"domain":[0,1]},"axis":{"orient":"right","values":[0,0.2,0.4,0.6,0.8,1],"labels":false,"title":null}},
    "color":{"field":"k","type":"nominal","legend":null},
    "shape":{"field":"k","type":"nominal","scale":{"domain":["SW","SV","GW","GV"],"range":["M-1,0H1M0,-1V1","M-0.8,-0.8L0.8,0.8M-0.8,0.8L0.8,-0.8","M-0.95,-0.95H0.95V0.95H-0.95Z","M-0.85,0A0.85,0.85,0,1,0,0.85,0A0.85,0.85,0,1,0,-0.85,0"]},"legend":null}}}
 ]},
{"width":240,"height":176,"transform":[{"filter":"datum.p==='b'"}],
 "title":{"text":"(b)\u00a0 Demand Ratio = 1/4","offset":14},
 "resolve":{"axis":{"x":"independent","y":"independent"}},
 "layer":[
  {"mark":{"type":"line","strokeWidth":1},
   "encoding":{
    "x":{"field":"t","type":"quantitative","scale":{"domain":[0,24]},"axis":{"orient":"bottom","values":[0,6,12,18,24],"title":"Time (Hour)"}},
    "y":{"field":"v","type":"quantitative","scale":{"domain":[0,1]},"axis":{"orient":"left","values":[0,0.2,0.4,0.6,0.8,1],"labelExpr":"''+datum.value","title":"Throughput Ratio"}},
    "color":{"field":"k","type":"nominal","scale":{"domain":["SW","SV","GW","GV"],"range":["#000000","#ee2020","#8a50c8","#3cb034"]},
     "legend":{"labelExpr":"datum.value==='SW'?'SODC-WithoutVMCost':datum.value==='SV'?'SODC-WithVMCost':datum.value==='GW'?'GRID-WithoutVMCost':'GRID-WithVMCost'"}},
    "strokeDash":{"field":"k","type":"nominal","scale":{"domain":["SW","SV","GW","GV"],"range":[[1,0],[3,2],[1,0],[1,2]]},"legend":null}}},
  {"mark":{"type":"point","filled":false,"size":50,"strokeWidth":1,"opacity":1},
   "encoding":{
    "x":{"field":"t","type":"quantitative","scale":{"domain":[0,24]},"axis":{"orient":"top","values":[0,6,12,18,24],"labels":false,"title":null}},
    "y":{"field":"v","type":"quantitative","scale":{"domain":[0,1]},"axis":{"orient":"right","values":[0,0.2,0.4,0.6,0.8,1],"labels":false,"title":null}},
    "color":{"field":"k","type":"nominal","legend":null},
    "shape":{"field":"k","type":"nominal","scale":{"domain":["SW","SV","GW","GV"],"range":["M-1,0H1M0,-1V1","M-0.8,-0.8L0.8,0.8M-0.8,0.8L0.8,-0.8","M-0.95,-0.95H0.95V0.95H-0.95Z","M-0.85,0A0.85,0.85,0,1,0,0.85,0A0.85,0.85,0,1,0,-0.85,0"]},"legend":null}}}
 ]},
{"width":240,"height":176,"transform":[{"filter":"datum.p==='c'"}],
 "title":{"text":"(c)\u00a0 Demand Ratio = 1/6","offset":23},
 "resolve":{"axis":{"x":"independent","y":"independent"}},
 "layer":[
  {"mark":{"type":"line","strokeWidth":1},
   "encoding":{
    "x":{"field":"t","type":"quantitative","scale":{"domain":[0,24]},"axis":{"orient":"bottom","values":[0,6,12,18,24],"title":"Time (Hour)"}},
    "y":{"field":"v","type":"quantitative","scale":{"domain":[0,1]},"axis":{"orient":"left","values":[0,0.2,0.4,0.6,0.8,1],"labelExpr":"''+datum.value","title":"Throughput Ratio"}},
    "color":{"field":"k","type":"nominal","scale":{"domain":["SW","SV","GW","GV"],"range":["#000000","#ee2020","#8a50c8","#3cb034"]},
     "legend":{"labelExpr":"datum.value==='SW'?'SODC-WithoutVMCost':datum.value==='SV'?'SODC-WithVMCost':datum.value==='GW'?'GRID-WithoutVMCost':'GRID-WithVMCost'"}},
    "strokeDash":{"field":"k","type":"nominal","scale":{"domain":["SW","SV","GW","GV"],"range":[[1,0],[3,2],[1,0],[1,2]]},"legend":null}}},
  {"mark":{"type":"point","filled":false,"size":50,"strokeWidth":1,"opacity":1},
   "encoding":{
    "x":{"field":"t","type":"quantitative","scale":{"domain":[0,24]},"axis":{"orient":"top","values":[0,6,12,18,24],"labels":false,"title":null}},
    "y":{"field":"v","type":"quantitative","scale":{"domain":[0,1]},"axis":{"orient":"right","values":[0,0.2,0.4,0.6,0.8,1],"labels":false,"title":null}},
    "color":{"field":"k","type":"nominal","legend":null},
    "shape":{"field":"k","type":"nominal","scale":{"domain":["SW","SV","GW","GV"],"range":["M-1,0H1M0,-1V1","M-0.8,-0.8L0.8,0.8M-0.8,0.8L0.8,-0.8","M-0.95,-0.95H0.95V0.95H-0.95Z","M-0.85,0A0.85,0.85,0,1,0,0.85,0A0.85,0.85,0,1,0,-0.85,0"]},"legend":null}}}
 ]},
{"width":240,"height":176,"transform":[{"filter":"datum.p==='d'"}],
 "title":{"text":"(d)\u00a0 Demand Ratio = 1/8","offset":23},
 "resolve":{"axis":{"x":"independent","y":"independent"}},
 "layer":[
  {"mark":{"type":"line","strokeWidth":1},
   "encoding":{
    "x":{"field":"t","type":"quantitative","scale":{"domain":[0,24]},"axis":{"orient":"bottom","values":[0,6,12,18,24],"title":"Time (Hour)"}},
    "y":{"field":"v","type":"quantitative","scale":{"domain":[0,1]},"axis":{"orient":"left","values":[0,0.2,0.4,0.6,0.8,1],"labelExpr":"''+datum.value","title":"Throughput Ratio"}},
    "color":{"field":"k","type":"nominal","scale":{"domain":["SW","SV","GW","GV"],"range":["#000000","#ee2020","#8a50c8","#3cb034"]},
     "legend":{"labelExpr":"datum.value==='SW'?'SODC-WithoutVMCost':datum.value==='SV'?'SODC-WithVMCost':datum.value==='GW'?'Grid-WithoutVMCost':'Grid-WithVMCost'"}},
    "strokeDash":{"field":"k","type":"nominal","scale":{"domain":["SW","SV","GW","GV"],"range":[[1,0],[3,2],[1,0],[1,2]]},"legend":null}}},
  {"mark":{"type":"point","filled":false,"size":50,"strokeWidth":1,"opacity":1},
   "encoding":{
    "x":{"field":"t","type":"quantitative","scale":{"domain":[0,24]},"axis":{"orient":"top","values":[0,6,12,18,24],"labels":false,"title":null}},
    "y":{"field":"v","type":"quantitative","scale":{"domain":[0,1]},"axis":{"orient":"right","values":[0,0.2,0.4,0.6,0.8,1],"labels":false,"title":null}},
    "color":{"field":"k","type":"nominal","legend":null},
    "shape":{"field":"k","type":"nominal","scale":{"domain":["SW","SV","GW","GV"],"range":["M-1,0H1M0,-1V1","M-0.8,-0.8L0.8,0.8M-0.8,0.8L0.8,-0.8","M-0.95,-0.95H0.95V0.95H-0.95Z","M-0.85,0A0.85,0.85,0,1,0,0.85,0A0.85,0.85,0,1,0,-0.85,0"]},"legend":null}}}
 ]}
],
"config":{
 "view":{"stroke":"#000000","strokeWidth":1},
 "font":"Liberation Sans",
 "axis":{"grid":false,"domain":false,"labelFont":"Liberation Sans","labelFontSize":13.5,"labelColor":"#000","titleFont":"Liberation Sans","titleFontSize":15,"titleFontWeight":"normal","titleColor":"#000","tickColor":"#000","tickSize":-4,"labelPadding":9,"titlePadding":2,"labelFlush":false},
 "title":{"orient":"bottom","anchor":"middle","frame":"bounds","font":"Liberation Serif","fontSize":18,"fontWeight":"normal","color":"#000"},
 "legend":{"orient":"bottom-right","offset":6,"padding":0,"title":null,"labelFont":"Liberation Sans","labelFontSize":14.5,"labelColor":"#000","labelAlign":"right","labelOffset":-10,"symbolSize":36,"rowPadding":0}
}
}
